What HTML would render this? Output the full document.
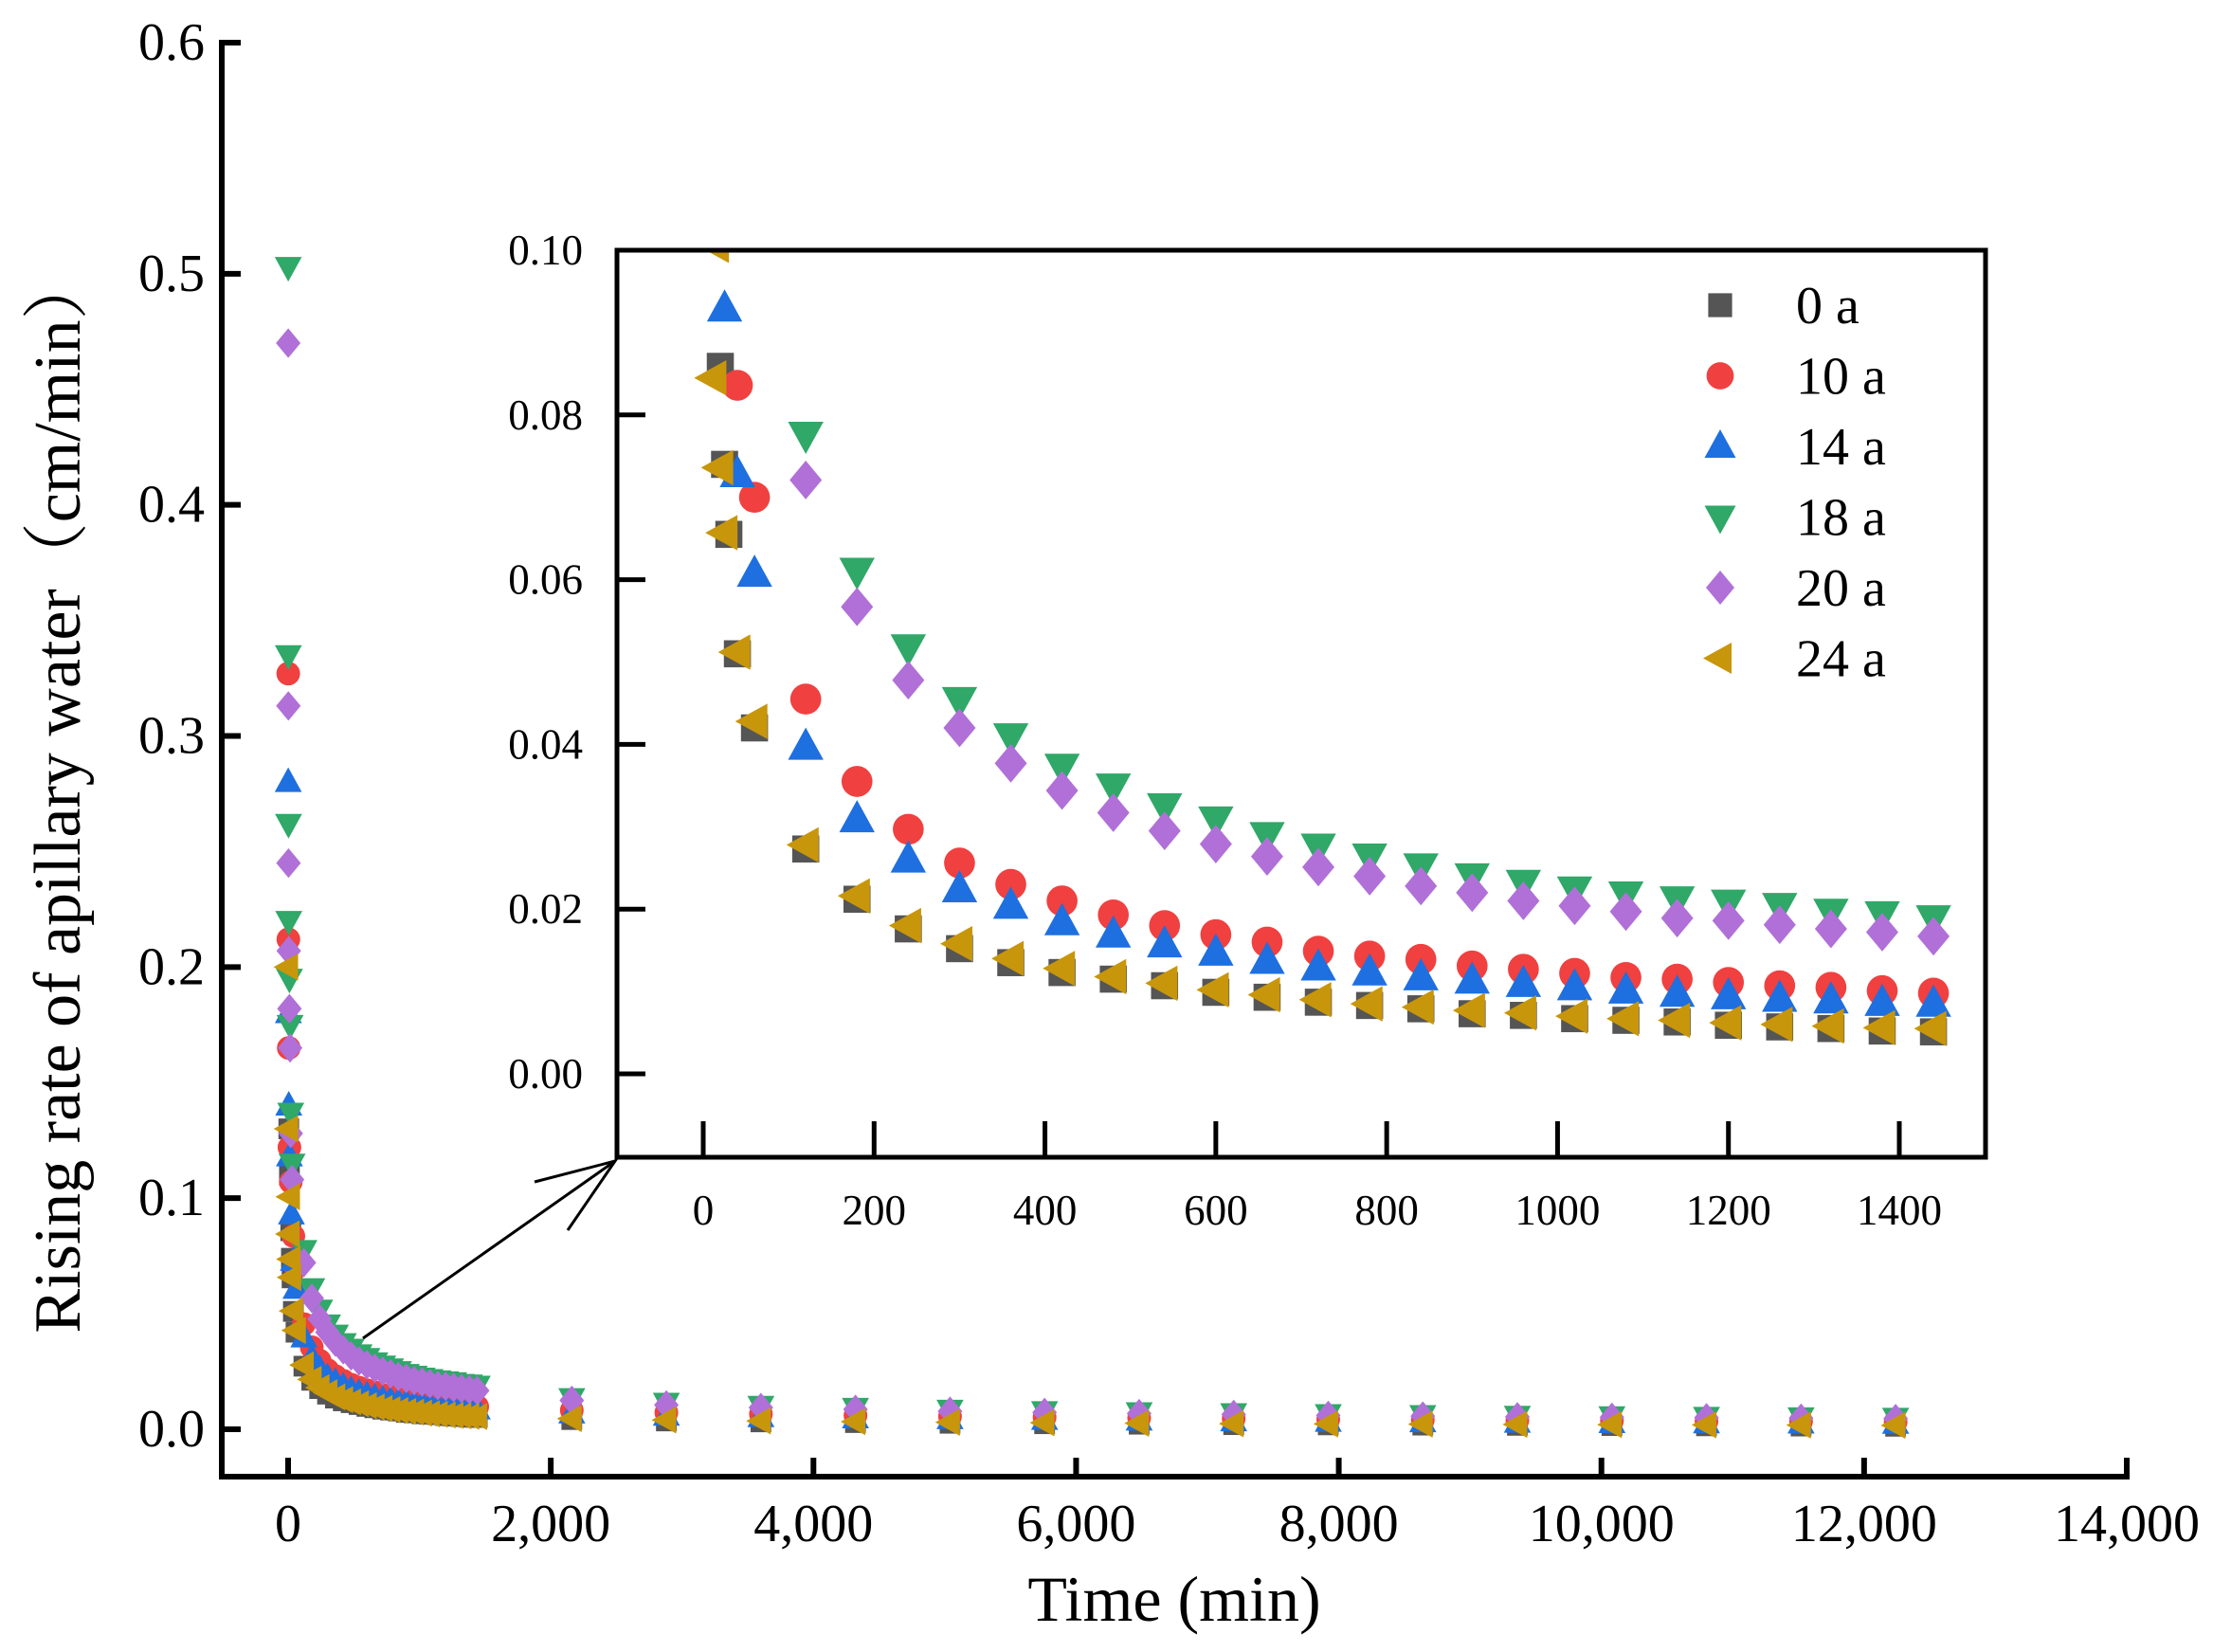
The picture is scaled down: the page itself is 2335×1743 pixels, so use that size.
<!DOCTYPE html>
<html><head><meta charset="utf-8"><style>
html,body{margin:0;padding:0;background:#fff}
svg{display:block}
text{font-family:"Liberation Serif","Noto Serif CJK SC",serif;fill:#000}
</style></head><body>
<svg id="chart" width="2335" height="1743" viewBox="0 0 2335 1743"></svg>
<script>
const seriesNames=["0 a","10 a","14 a","18 a","20 a","24 a"];
const seriesColors=["#555555","#f04040","#1e6fe0","#2fa868","#b070d8","#c8960a"];
const seriesShapes=["square","circle","up","down","diamond","left"];
const tailTimes=[2160,2880,3600,4320,5040,5760,6480,7200,7920,8640,9360,10080,10800,11520,12240];
const regTimes=[120,180,240,300,360,420,480,540,600,660,720,780,840,900,960,1020,1080,1140,1200,1260,1320,1380,1440];
const t0=[5,10,20,25,30,40,60];
const v0head=[0.13,0.11,0.0859,0.074,0.0655,0.051,0.042];
const v0reg=[0.0273,0.0212,0.0176,0.0152,0.0135,0.0123,0.0115,0.0107,0.0099,0.0093,0.0087,0.0083,0.0079,0.0073,0.0071,0.0067,0.0065,0.0063,0.0059,0.0057,0.0055,0.0052,0.0051];
const v0tail=[0.0042,0.0036,0.0032,0.0029,0.0026,0.0024,0.0022,0.0020,0.0019,0.0018,0.0017,0.0016,0.0015,0.0014,0.0013];
const t10=[1,2,5,10,20,40,60];
const v10head=[0.327,0.212,0.165,0.122,0.107,0.0836,0.07];
const v10reg=[0.0455,0.0355,0.0297,0.0256,0.023,0.021,0.0193,0.018,0.0169,0.016,0.0149,0.0143,0.0139,0.0131,0.0127,0.0122,0.0117,0.0115,0.0111,0.0107,0.0105,0.0101,0.0098];
const v10tail=[0.0082,0.0072,0.0066,0.006,0.0056,0.0052,0.0049,0.0046,0.0043,0.0041,0.0039,0.0037,0.0035,0.0034,0.0032];
const t14=[1,2,5,10,25,40,60];
const v14head=[0.28,0.18,0.14,0.118,0.0929,0.0728,0.0607];
const v14reg=[0.0397,0.0309,0.026,0.0224,0.0204,0.0184,0.0169,0.0157,0.0147,0.0137,0.0129,0.0123,0.0117,0.0113,0.0109,0.0105,0.0101,0.0097,0.0094,0.0091,0.0089,0.0086,0.0085];
const v14tail=[0.0068,0.0058,0.0052,0.0047,0.0043,0.004,0.0037,0.0034,0.0032,0.003,0.0028,0.0026,0.0025,0.0024,0.0023];
const t18=[1,2,3,5,10,15,20,30];
const v18head=[0.503,0.335,0.262,0.22,0.195,0.175,0.137,0.115];
const v18reg=[0.0776,0.0611,0.0518,0.0454,0.041,0.0373,0.0349,0.0325,0.0309,0.029,0.0276,0.0264,0.0252,0.024,0.0232,0.0224,0.0218,0.0212,0.0208,0.0204,0.0197,0.0194,0.0189];
const v18tail=[0.0135,0.0115,0.0102,0.0093,0.0085,0.0079,0.0074,0.007,0.0066,0.0062,0.0059,0.0057,0.0054,0.0052,0.005];
const t20=[1,2,3,5,10,15,20,30];
const v20head=[0.47,0.313,0.245,0.207,0.182,0.165,0.128,0.108];
const v20reg=[0.0721,0.0567,0.0478,0.042,0.0377,0.0344,0.0317,0.0295,0.0279,0.0264,0.0251,0.024,0.0228,0.022,0.021,0.0204,0.0197,0.0189,0.0186,0.0181,0.0176,0.0172,0.0167];
const v20tail=[0.0125,0.0105,0.0094,0.0086,0.0078,0.0073,0.0068,0.0064,0.006,0.0057,0.0054,0.0052,0.005,0.0048,0.0046];
const t24=[1,2,15,12,20,25,40,60];
const v24head=[0.2,0.13,0.1006,0.0845,0.0736,0.0657,0.0512,0.0428];
const v24reg=[0.0278,0.0216,0.018,0.0158,0.014,0.0128,0.0118,0.011,0.0102,0.0096,0.009,0.0085,0.0081,0.0077,0.0074,0.007,0.0067,0.0065,0.0062,0.006,0.0058,0.0056,0.0055];
const v24tail=[0.0046,0.004,0.0036,0.0033,0.003,0.0028,0.0026,0.0024,0.0023,0.0022,0.0021,0.002,0.0019,0.0018,0.0017];
const mainYTicks=[0,0.1,0.2,0.3,0.4,0.5,0.6];
const mainYLabels=["0.0","0.1","0.2","0.3","0.4","0.5","0.6"];
const mainXTicks=[0,2000,4000,6000,8000,10000,12000,14000];
const mainXLabels=["0","2,000","4,000","6,000","8,000","10,000","12,000","14,000"];
const insetYTicks=[0,0.02,0.04,0.06,0.08,0.10];
const insetYLabels=["0.00","0.02","0.04","0.06","0.08","0.10"];
const insetXTicks=[0,200,400,600,800,1000,1200,1400];
const insetXLabels=["0","200","400","600","800","1000","1200","1400"];

const heads=[[t0,v0head],[t10,v10head],[t14,v14head],[t18,v18head],[t20,v20head],[t24,v24head]];
const regs=[v0reg,v10reg,v14reg,v18reg,v20reg,v24reg];
const tails=[v0tail,v10tail,v14tail,v18tail,v20tail,v24tail];

const NS="http://www.w3.org/2000/svg";
const svg=document.getElementById('chart');
function mk(tag,attrs,parent){const e=document.createElementNS(NS,tag);for(const k in attrs)e.setAttribute(k,attrs[k]);(parent||svg).appendChild(e);return e;}

const MX0=304,MX1=2244,MY0=1508,MY1=45;
const mx=t=>MX0+(t/14000)*(MX1-MX0);
const my=v=>MY0-(v/0.6)*(MY0-MY1);
const IL=651,IT=264,IR=2095,IB=1221;
const ix=t=>742+(t/1400)*(2004-742);
const iy=v=>1133-(v/0.1)*(1133-264);

function marker(shape,cx,cy,s,color,parent){
  let e;
  if(shape==="square") e=mk('rect',{x:cx-s*0.42,y:cy-s*0.42,width:s*0.84,height:s*0.84,fill:color},parent);
  else if(shape==="circle") e=mk('circle',{cx:cx,cy:cy,r:s*0.48,fill:color},parent);
  else if(shape==="up") e=mk('polygon',{points:`${cx},${cy-s*0.6} ${cx-s*0.55},${cy+s*0.4} ${cx+s*0.55},${cy+s*0.4}`,fill:color},parent);
  else if(shape==="down") e=mk('polygon',{points:`${cx},${cy+s*0.6} ${cx-s*0.55},${cy-s*0.4} ${cx+s*0.55},${cy-s*0.4}`,fill:color},parent);
  else if(shape==="diamond") e=mk('polygon',{points:`${cx},${cy-s*0.6} ${cx+s*0.5},${cy} ${cx},${cy+s*0.6} ${cx-s*0.5},${cy}`,fill:color},parent);
  else e=mk('polygon',{points:`${cx-s*0.6},${cy} ${cx+s*0.4},${cy-s*0.55} ${cx+s*0.4},${cy+s*0.55}`,fill:color},parent);
  return e;
}

const mainAxes=mk('g',{});


mk('line',{x1:234,y1:42,x2:234,y2:1561,stroke:'#000','stroke-width':6},mainAxes);
mk('line',{x1:231,y1:1558,x2:2247,y2:1558,stroke:'#000','stroke-width':6},mainAxes);
mainYTicks.forEach((v,i)=>{
  mk('line',{x1:234,y1:my(v),x2:254,y2:my(v),stroke:'#000','stroke-width':6},mainAxes);
  const t=mk('text',{x:216,y:my(v)+18,'text-anchor':'end','font-size':56},mainAxes);
  t.textContent=mainYLabels[i];
  
  
});
mainXTicks.forEach((v,i)=>{
  mk('line',{x1:mx(v),y1:1558,x2:mx(v),y2:1538,stroke:'#000','stroke-width':6},mainAxes);
  const t=mk('text',{x:mx(v),y:1626,'text-anchor':'middle','font-size':56},mainAxes);
  t.textContent=mainXLabels[i];
  
  
});
const xt=mk('text',{x:1239,y:1710,'text-anchor':'middle','font-size':68});
xt.textContent="Time (min)";


const yt=mk('text',{x:0,y:0,'text-anchor':'middle','font-size':70,transform:'translate(84,837) rotate(-90)'});
yt.textContent="Rising rate of apillary water（cm/min）";



const mainPts=mk('g',{});


for(let s=0;s<6;s++){
  const g=mk('g',{},mainPts);
  
  
  const pts=[];
  heads[s][0].forEach((t,i)=>pts.push([t,heads[s][1][i]]));
  regTimes.forEach((t,i)=>pts.push([t,regs[s][i]]));
  tailTimes.forEach((t,i)=>pts.push([t,tails[s][i]]));
  pts.forEach(p=>{const m=marker(seriesShapes[s],mx(p[0]),my(p[1]),26,seriesColors[s],g);
    
    });
}

const arrow=mk('g',{stroke:'#000','stroke-width':3,fill:'none'});


mk('line',{x1:383,y1:1412,x2:649,y2:1225},arrow);
mk('polyline',{points:'564,1247 649,1225 599,1298'},arrow);

const inset=mk('g',{});


mk('rect',{x:IL,y:IT,width:IR-IL,height:IB-IT,fill:'#fff',stroke:'none'},inset);
const defs=mk('defs',{});
const cp=mk('clipPath',{id:'ic'},defs);
mk('rect',{x:IL,y:IT,width:IR-IL,height:IB-IT},cp);
const ipts=mk('g',{'clip-path':'url(#ic)'},inset);


for(let s=0;s<6;s++){
  const g=mk('g',{},ipts);
  
  
  const pts=[];
  heads[s][0].forEach((t,i)=>pts.push([t,heads[s][1][i]]));
  regTimes.forEach((t,i)=>pts.push([t,regs[s][i]]));
  pts.forEach(p=>{ if(p[1]>0.105) return;
    const m=marker(seriesShapes[s],ix(p[0]),iy(p[1]),34,seriesColors[s],g);
    
    });
}
mk('rect',{x:IL,y:IT,width:IR-IL,height:IB-IT,fill:'none',stroke:'#000','stroke-width':5},inset);
insetYTicks.forEach((v,i)=>{
  mk('line',{x1:IL,y1:iy(v),x2:IL+30,y2:iy(v),stroke:'#000','stroke-width':5},inset);
  const t=mk('text',{x:615,y:iy(v)+15,'text-anchor':'end','font-size':45},inset);
  t.textContent=insetYLabels[i];
  
  
});
insetXTicks.forEach((v,i)=>{
  mk('line',{x1:ix(v),y1:IB,x2:ix(v),y2:IB-38,stroke:'#000','stroke-width':5},inset);
  const t=mk('text',{x:ix(v),y:1292,'text-anchor':'middle','font-size':45},inset);
  t.textContent=insetXLabels[i];
  
  
});

const legend=mk('g',{});


for(let s=0;s<6;s++){
  const y=322+s*74.5;
  const e=mk('g',{},legend);
  
  
  marker(seriesShapes[s],1815,y,30,seriesColors[s],e);
  const t=mk('text',{x:1895,y:y+19,'font-size':56},e);
  t.textContent=seriesNames[s];
}
</script>
</body></html>
